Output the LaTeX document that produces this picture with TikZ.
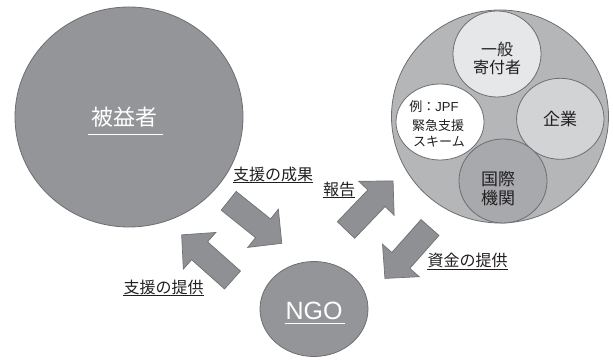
\documentclass[tikz,border=0pt]{standalone}
\usepackage{fontspec}
\usetikzlibrary{shapes.geometric}
\newfontfamily\jp{Noto Sans CJK JP}
\newfontfamily\lat{Liberation Sans}
\definecolor{cgray}{HTML}{939598}
\definecolor{cedge}{HTML}{6D6E71}
\definecolor{couter}{HTML}{B5B6B8}
\definecolor{cippan}{HTML}{E6E7E8}
\definecolor{ckigyo}{HTML}{D1D3D4}
\definecolor{ckoku}{HTML}{A7A9AC}
\definecolor{ctext}{HTML}{231F20}
\definecolor{carrow}{HTML}{8F9093}
\definecolor{carredge}{HTML}{707174}
\begin{document}
\begin{tikzpicture}[x=1pt,y=1pt,
  blob/.style={ellipse, draw=cedge, line width=0.8pt, inner sep=0pt},
  lbl/.style={font=\jp\fontsize{16}{16}\selectfont, text=ctext, inner xsep=0pt, inner ysep=0pt, anchor=base},
  intext/.style={font=\jp\fontsize{16}{16}\selectfont, text=ctext, inner sep=0pt, anchor=base},
  ul/.style={draw=ctext, line width=0.7pt},
  wul/.style={draw=white, line width=1.4pt},
  arrowsty/.style={fill=carrow, draw=carredge, line width=0.7pt, line join=miter},
  blockarrow/.pic={\path[arrowsty] (0,-12) -- (44,-12) -- (44,-24.5) -- (68,0) -- (44,24.5) -- (44,12) -- (0,12) -- cycle;}
]
\useasboundingbox (0,0) rectangle (613,363);

% main circles
\node[blob, fill=cgray, minimum width=228pt, minimum height=220pt] (ben) at (129,246) {};
\node[blob, fill=cgray, minimum width=108pt, minimum height=95pt] (ngo) at (314,54) {};
\node[blob, fill=couter, minimum width=217pt, minimum height=213pt] (don) at (500,246.5) {};
\node[blob, fill=cippan, minimum width=88pt, minimum height=86pt] (ippan) at (497,309) {};
\node[blob, fill=ckigyo, minimum width=87.4pt, minimum height=81pt] (kigyo) at (560.3,244.2) {};
\node[blob, fill=white, minimum width=88pt, minimum height=76pt] (rei) at (440,241) {};
\node[blob, fill=ckoku, minimum width=88pt, minimum height=84pt] (koku) at (503,182) {};

% circle texts
\node[font=\jp\fontsize{22}{22}\selectfont, text=white, inner sep=0pt, anchor=base] (bentxt) at (124.5,237) {被益者};
\path[wul] ([xshift=-3pt,yshift=-8.3pt]bentxt.base west) -- ([xshift=5pt,yshift=-8.3pt]bentxt.base east);
\node[font=\lat\fontsize{25}{25}\selectfont, text=white, inner sep=0pt, anchor=base] (ngotxt) at (314,43) {NGO};
\path[wul] ([yshift=-3.3pt]ngotxt.base west) -- ([xshift=2pt,yshift=-3.3pt]ngotxt.base east);

\node[intext] (ippan1) at (497,307) {一般};
\node[intext] (ippan2) at (497,289) {寄付者};
\node[intext, font=\jp\fontsize{17}{17}\selectfont] (kigyotxt) at (560,237) {企業};
\node[intext, font=\jp\fontsize{13}{13}\selectfont] (rei1) at (434,251) {例：{\lat JPF}};
\node[intext, font=\jp\fontsize{13}{13}\selectfont] (rei2) at (438,232) {緊急支援};
\node[intext, font=\jp\fontsize{13}{13}\selectfont] (rei3) at (439,216) {スキーム};
\node[intext, font=\jp\fontsize{17}{17}\selectfont] (koku1) at (498,177) {国際};
\node[intext, font=\jp\fontsize{17}{17}\selectfont] (koku2) at (498,158) {機関};

% block arrows
\coordinate (a1) at (228.7,162.2);
\coordinate (a2) at (232.5,83);
\coordinate (a3) at (346,133);
\coordinate (a4) at (430,135.5);
\pic[rotate=-38.7] at (a1) {blockarrow};
\pic[rotate=138.4] at (a2) {blockarrow};
\pic[rotate=46.2] at (a3) {blockarrow};
\pic[rotate=-131.5] at (a4) {blockarrow};

% labels
\node[lbl] (l1) at (273,182) {支援の成果};
\path[ul] ([yshift=-1.6pt]l1.base west) -- ([yshift=-1.6pt]l1.base east);
\node[lbl] (l2) at (163.5,69) {支援の提供};
\path[ul] ([yshift=-1.6pt]l2.base west) -- ([yshift=-1.6pt]l2.base east);
\node[lbl] (l3) at (339,167) {報告};
\path[ul] ([yshift=-1.6pt]l3.base west) -- ([yshift=-1.6pt]l3.base east);
\node[lbl] (l4) at (467.5,96) {資金の提供};
\path[ul] ([yshift=-2pt]l4.base west) -- ([yshift=-2pt]l4.base east);
\end{tikzpicture}
\end{document}
